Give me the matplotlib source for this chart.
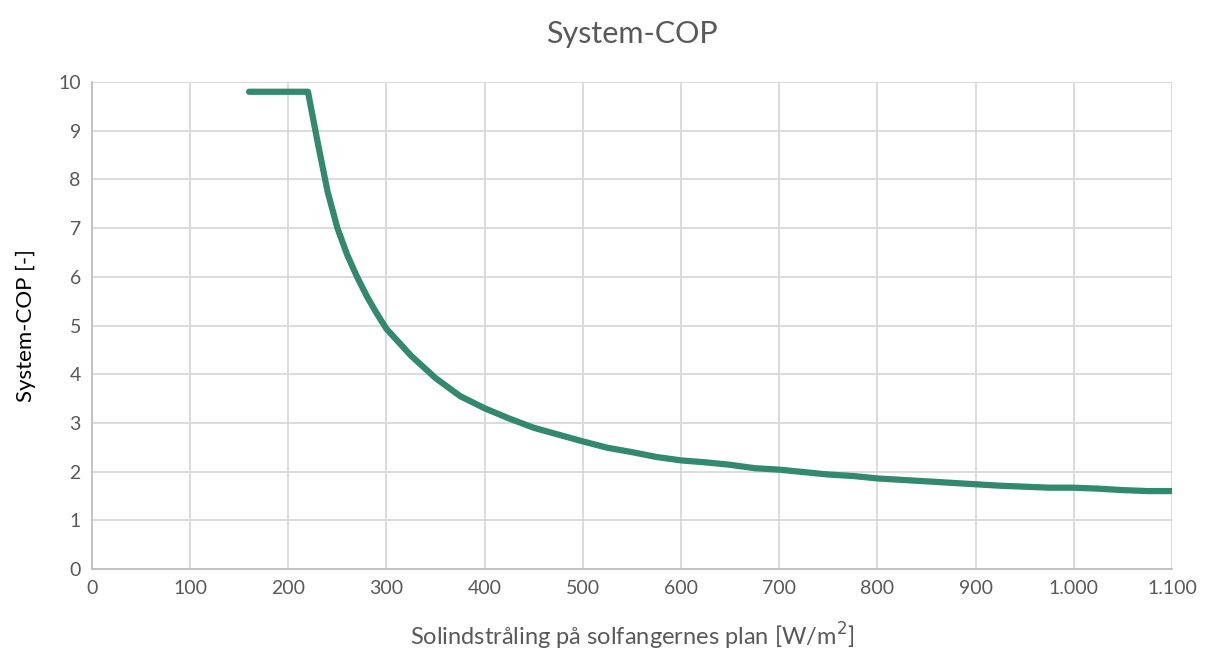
import matplotlib.pyplot as plt
from matplotlib.ticker import FuncFormatter, MultipleLocator

plt.rcParams['font.family'] = ['Lato', 'DejaVu Sans']

# solar irradiance on collector plane [W/m2] and system COP [-]
irradiance = [160, 220, 230, 240, 250, 260, 270, 280, 290, 300, 325, 350, 375,
              400, 425, 450, 475, 500, 525, 550, 575, 600, 625, 650, 675, 700,
              725, 750, 775, 800, 825, 850, 875, 900, 925, 950, 975, 1000,
              1025, 1050, 1075, 1100]
cop = [9.8, 9.8, 8.75, 7.75, 7.0, 6.45, 6.0, 5.6, 5.25, 4.93, 4.38, 3.92, 3.55,
       3.30, 3.09, 2.90, 2.76, 2.62, 2.49, 2.40, 2.30, 2.23, 2.19, 2.14, 2.07,
       2.04, 1.99, 1.94, 1.91, 1.86, 1.83, 1.80, 1.77, 1.74, 1.71, 1.69, 1.67,
       1.67, 1.65, 1.62, 1.60, 1.60]

grey = '#595959'

fig = plt.figure(figsize=(12.05, 6.52), dpi=100)
ax = fig.add_axes([0.0763, 0.1273, 0.8963, 0.7469])

ax.plot(irradiance, cop, color='#33896d', lw=4.5, solid_capstyle='round',
        solid_joinstyle='round', zorder=3)

ax.set_xlim(0, 1100)
ax.set_ylim(0, 10)
ax.xaxis.set_major_locator(MultipleLocator(100))
ax.yaxis.set_major_locator(MultipleLocator(1))
ax.xaxis.set_major_formatter(FuncFormatter(lambda v, p: f"{int(v):,}".replace(',', '.')))

ax.grid(True, color='#d9d9d9', lw=1.3)
ax.set_axisbelow(True)
for s in ['top', 'right']:
    ax.spines[s].set_visible(False)
for s in ['left', 'bottom']:
    ax.spines[s].set_color('#bfbfbf')
    ax.spines[s].set_linewidth(1.3)
ax.tick_params(length=0, labelsize=14, labelcolor=grey, pad=8)

ax.set_title("System-COP", fontsize=22, color=grey, pad=28)
ax.set_xlabel("Solindstråling på solfangernes plan [W/m$^2$]", fontsize=17, color=grey, labelpad=17)
ax.set_ylabel("System-COP [-]", fontsize=16, color='black', labelpad=16)

fig.savefig("out.png", dpi=100)
